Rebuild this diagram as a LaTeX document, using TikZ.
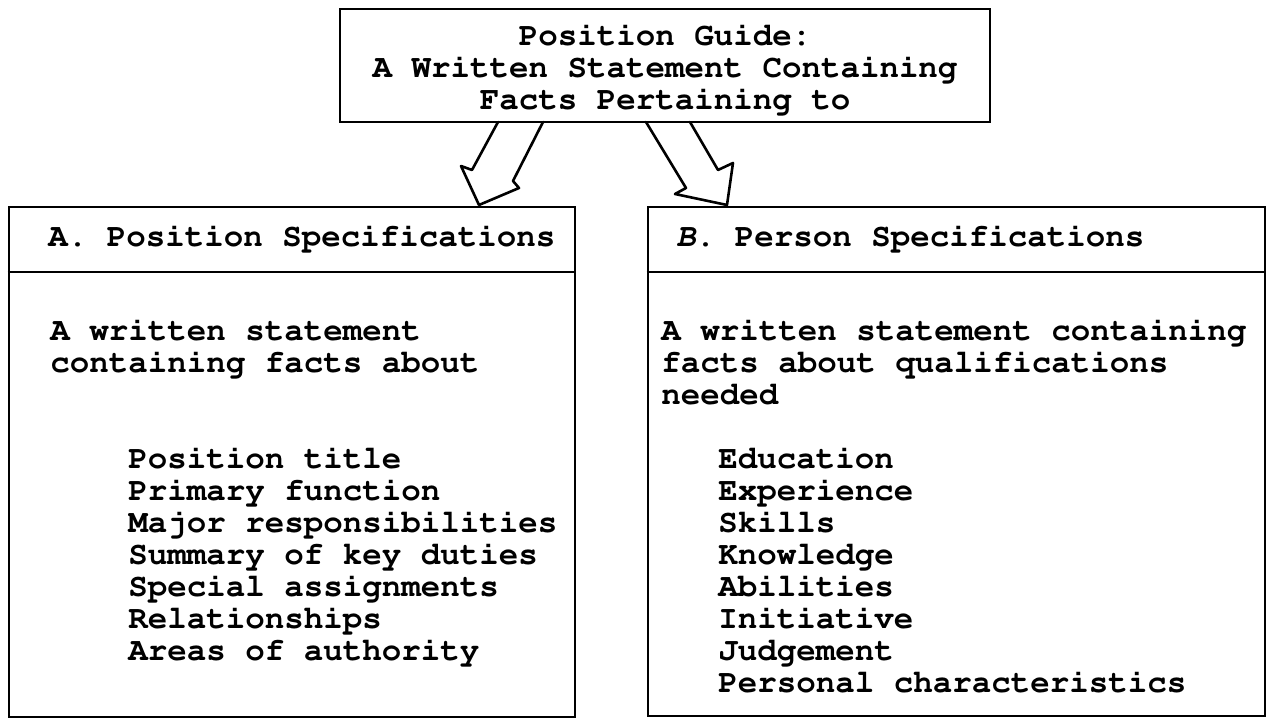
\documentclass[tikz,border=0pt]{standalone}
\usepackage[T1]{fontenc}
\newcommand{\twfont}{\fontencoding{T1}\fontfamily{pcr}\fontseries{b}\fontshape{n}\fontsize{16.25pt}{16pt}\selectfont}
\begin{document}
\begin{tikzpicture}[x=0.5pt,y=-0.5pt,
  box/.style={draw,line width=1.4pt,inner sep=0pt},
  txt/.style={font=\twfont,inner sep=0pt,anchor=base west},
  ctxt/.style={font=\twfont,inner sep=0pt,anchor=base},
  blockarrow/.style={draw,line width=1.3pt,line join=round,line cap=round}]
\useasboundingbox (0,0) rectangle (1271,721);
\fill[white] (0,0) rectangle (1271,721);
% boxes
\node[box,minimum width=325pt,minimum height=56.5pt] (top) at (665,65.5) {};
\node[box,minimum width=283pt,minimum height=255pt] (A) at (292,462) {};
\node[box,minimum width=308.5pt,minimum height=254.5pt] (B) at (956.5,461.5) {};
\coordinate (divy) at (0,272);
\draw[line width=1.4pt] (A.west |- divy) -- (A.east |- divy);
\draw[line width=1.4pt] (B.west |- divy) -- (B.east |- divy);
% top text
\node[ctxt] (t1) at (665,46) {Position Guide:};
\node[ctxt] (t2) at (665,78) {A Written Statement Containing};
\node[ctxt] (t3) at (665,110) {Facts Pertaining to};
% headers
\node[txt] (ha) at (48,247) {A. Position Specifications};
\node[txt] (hb) at (676,247) {{\fontshape{sl}\selectfont B}. Person Specifications};
% left body
\node[txt] (a1) at (50,341) {A written statement};
\node[txt] (a2) at (50,373) {containing facts about};
\foreach \s [count=\i from 0] in {Position title,Primary function,Major responsibilities,Summary of key duties,Special assignments,Relationships,Areas of authority}
  \node[txt] (la\i) at (128,469+32*\i) {\s};
% right body
\node[txt] (b1) at (661,341) {A written statement containing};
\node[txt] (b2) at (661,373) {facts about qualifications};
\node[txt] (b3) at (661,405) {needed};
\foreach \s [count=\i from 0] in {Education,Experience,Skills,Knowledge,Abilities,Initiative,Judgement,Personal characteristics}
  \node[txt] (lb\i) at (718,469+32*\i) {\s};
% block arrows
\draw[blockarrow] (498,122) -- (472,170) -- (461,166) -- (479,205) -- (519,188) -- (513,181) -- (543,122);
\draw[blockarrow] (646,122) -- (686,188) -- (675,194) -- (727,205) -- (733,163) -- (718,170) -- (690,122);
\end{tikzpicture}
\end{document}
